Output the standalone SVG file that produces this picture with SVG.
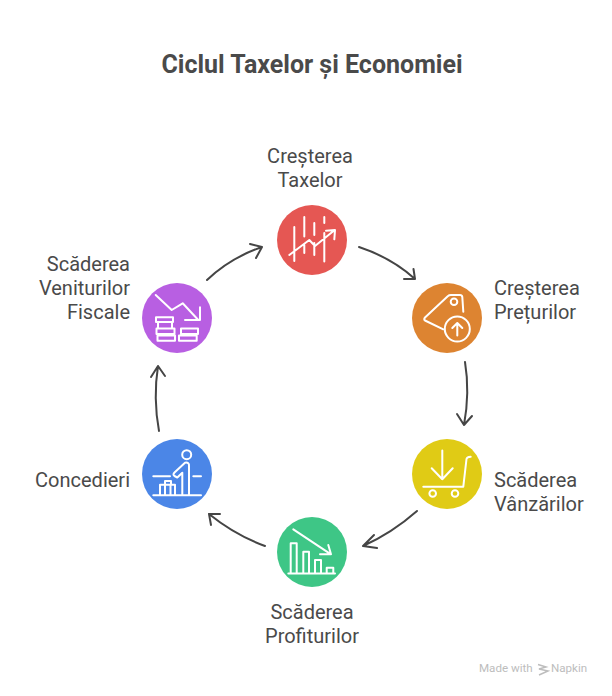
<svg xmlns="http://www.w3.org/2000/svg" width="612" height="696" viewBox="0 0 612 696">
<style>
text{font-family:Roboto,"Liberation Sans",sans-serif;fill:#4a4a4a}
.t{font-size:25px;font-weight:700;text-anchor:middle}
.l{font-size:20px}
.m{text-anchor:middle}.e{text-anchor:end}
.w{fill:#bdbdbd;font-size:11.600px}
.i{fill:none;stroke:#fff;stroke-width:2;stroke-linecap:round;stroke-linejoin:round}
.c{fill:none;stroke:#454545;stroke-width:2;stroke-linecap:round;stroke-linejoin:round}
</style>
<rect width="612" height="696" fill="#fff"/>
<text class="t" x="312" y="73">Ciclul Taxelor și Economiei</text>
<g id="connectors">
<path class="c" d="M359 247Q392 258 415 279M404 279L415 279L413.500 269"/>
<path class="c" d="M465 362Q470 392 464 425M457 414L464 425L472 416"/>
<path class="c" d="M417 511Q392 533 363 546M374 535L363 546L377 548"/>
<path class="c" d="M265 546Q235 535 209 514M220 514L209 514L211 525"/>
<path class="c" d="M159 431Q153 398 158 366M151 377L158 366L165 376"/>
<path class="c" d="M207 280Q230 258 262 247M250 244L262 247L256 258"/>
</g>
<g id="n1">
<circle cx="312" cy="240" r="35" fill="#e55753"/>
<path class="i" d="M294.300 227V261M304.300 217V236.500M304.300 245V253M314.300 223V235M314.300 243V255M324.300 233V261.500M324.300 217V223M289.300 255L309.300 240L315 246L333.500 231M326 230.700L335 230L334.300 239.300"/>
<text class="l m"><tspan x="310" y="163">Creșterea</tspan><tspan x="310" y="187">Taxelor</tspan></text>
</g>
<g id="n2">
<circle cx="447" cy="318" r="35" fill="#dd8431"/>
<path class="i" d="M443.300 329.300L425 320.500Q423.500 319.300 425 317.500L448 296Q449 295 451 295L460 295Q462 295 462.300 297L463.300 311.700"/>
<circle class="i" cx="454" cy="301.700" r="3.300"/>
<circle class="i" cx="457.300" cy="329" r="12.500"/>
<path class="i" d="M457.300 335.500V323M452.300 328L457.300 323L462.300 328"/>
<text class="l"><tspan x="494" y="295">Creșterea</tspan><tspan x="494" y="319">Prețurilor</tspan></text>
</g>
<g id="n3">
<circle cx="447" cy="474" r="35" fill="#e0cb15"/>
<path class="i" d="M442.300 450.500V479.300M431.700 468.300L442.300 479.300L452.700 468.300M423.300 486.700H463.300L466.500 459Q466.700 457 470.700 456.700"/>
<circle class="i" cx="432.700" cy="493.500" r="3.300"/>
<circle class="i" cx="455" cy="493.500" r="3.300"/>
<text class="l"><tspan x="494" y="487">Scăderea</tspan><tspan x="494" y="511">Vânzărilor</tspan></text>
</g>
<g id="n4">
<circle cx="312" cy="552" r="35" fill="#3ec686"/>
<path class="i" d="M293.300 529.300L331 554.300M320 554.300H331L328.300 545M288.300 573.500H335M290.700 573.500V543.300H296.700V573.500M303.300 573.500V551.700H309V573.500M315 573.500V560H321V573.500M326.700 573.500V567.700H333.300V573.500"/>
<text class="l m"><tspan x="312" y="619">Scăderea</tspan><tspan x="312" y="643">Profiturilor</tspan></text>
</g>
<g id="n5">
<circle cx="177" cy="474" r="35" fill="#4b86e7"/>
<circle class="i" cx="186.700" cy="454.700" r="4.500"/>
<path class="i" d="M153.300 476.300H170M193.300 476.300H201M153.300 495.300H201M189 495V466Q189.500 462 185 462.700L174.500 472.500Q172.500 474.500 174.500 476L177.300 477.500L182.300 472.700V495M160 495V484.700H175V495M165 495V484.700M170.500 495V484.700M165 484.700V481H171V484.700"/>
<text class="l e" x="130" y="487">Concedieri</text>
</g>
<g id="n6">
<circle cx="177" cy="318" r="35" fill="#b85fe2"/>
<path class="i" d="M155.700 295L171.700 310L182.700 303.300L198.300 320M185 320H200V307.300"/>
<path class="i" d="M156 317.300H173V322H156ZM156.500 328.500H174.500V334H156.500ZM157.500 335.500H175V340.700H157.500ZM158 322V328.500M172 322V328.500M181 328.500H198V334H181ZM179 335.500H196.700V340.700H179Z"/>
<text class="l e"><tspan x="130" y="271">Scăderea</tspan><tspan x="130" y="295">Veniturilor</tspan><tspan x="130" y="319">Fiscale</tspan></text>
</g>
<g id="watermark">
<path d="M538 664.500L546 667L539 669L548 671L539 675" fill="none" stroke="#bdbdbd" stroke-width="1.500"/>
<text class="w" x="479" y="672">Made with</text>
<text class="w" x="551" y="672">Napkin</text>
</g>
</svg>
